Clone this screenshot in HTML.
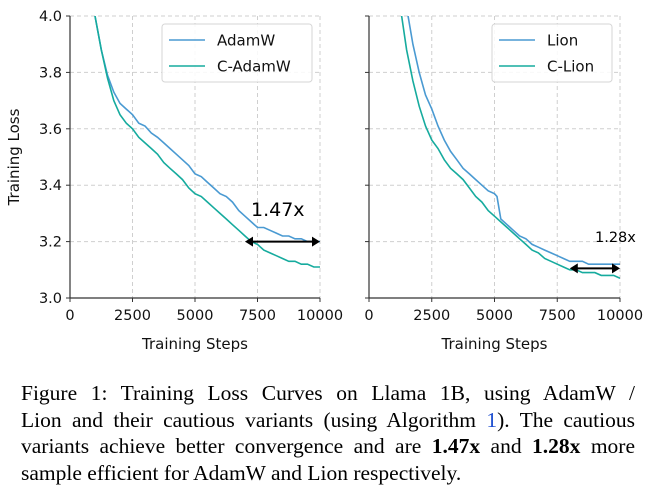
<!DOCTYPE html>
<html><head><meta charset="utf-8"><style>
body{margin:0;background:#fff;width:656px;height:491px;overflow:hidden;position:relative}
svg text{font-family:"DejaVu Sans","Liberation Sans",sans-serif}
.cap{position:absolute;left:21px;width:614px;font-family:"Liberation Serif",serif;font-size:21.5px;line-height:26.5px;top:380px;color:#000}
.cap div{text-align:justify;text-align-last:justify;white-space:nowrap}
.cap div.last{text-align-last:left}
.cap span.b{font-weight:bold}.cap span.r{color:#1f4fd0}
</style></head><body>
<svg id="chart" width="656" height="370" style="position:absolute;left:0;top:0"></svg>
<div class="cap">
<div>Figure 1: Training Loss Curves on Llama 1B, using AdamW /</div>
<div>Lion and their cautious variants (using Algorithm <span class="r">1</span>). The cautious</div>
<div>variants achieve better convergence and are <span class="b">1.47x</span> and <span class="b">1.28x</span> more</div>
<div class="last">sample efficient for AdamW and Lion respectively.</div>
</div>
<script>
const xTicks=[0,2500,5000,7500,10000];
const yTicks=[3.0,3.2,3.4,3.6,3.8,4.0];
const stepsA=[1000,1250,1500,1750,2000,2250,2500,2750,3000,3250,3500,3750,4000,4250,4500,4750,5000,5250,5500,5750,6000,6250,6500,6750,7000,7250,7500,7750,8000,8250,8500,8750,9000,9250,9500,9750,10000];
const adamw=[4.00,3.88,3.79,3.73,3.69,3.67,3.65,3.62,3.61,3.585,3.57,3.55,3.53,3.51,3.49,3.47,3.44,3.43,3.41,3.39,3.37,3.36,3.34,3.31,3.29,3.27,3.25,3.25,3.24,3.23,3.22,3.22,3.21,3.21,3.20,3.20,3.20];
const cadamw=[4.00,3.88,3.78,3.70,3.65,3.62,3.60,3.57,3.55,3.53,3.51,3.48,3.46,3.44,3.42,3.39,3.37,3.36,3.34,3.32,3.30,3.28,3.26,3.24,3.22,3.20,3.19,3.17,3.16,3.15,3.14,3.13,3.13,3.12,3.12,3.11,3.11];
const stepsL=[1500,1750,2000,2250,2500,2750,3000,3250,3500,3750,4000,4250,4500,4750,5000,5100,5250,5500,5750,6000,6250,6500,6750,7000,7250,7500,7750,8000,8250,8500,8750,9000,9250,9500,9750,10000];
const lion=[4.03,3.90,3.80,3.72,3.67,3.61,3.56,3.52,3.49,3.46,3.44,3.42,3.40,3.38,3.37,3.36,3.28,3.26,3.24,3.22,3.21,3.19,3.18,3.17,3.16,3.15,3.14,3.13,3.13,3.13,3.12,3.12,3.12,3.12,3.12,3.12];
const stepsC=[1250,1500,1750,2000,2250,2500,2750,3000,3250,3500,3750,4000,4250,4500,4750,5000,5250,5500,5750,6000,6250,6500,6750,7000,7250,7500,7750,8000,8250,8500,8750,9000,9250,9500,9750,10000];
const clion=[4.03,3.88,3.77,3.68,3.61,3.56,3.53,3.49,3.46,3.44,3.42,3.39,3.36,3.34,3.31,3.29,3.27,3.25,3.23,3.21,3.19,3.17,3.16,3.14,3.13,3.12,3.11,3.10,3.10,3.09,3.09,3.09,3.08,3.08,3.08,3.07];
const speedups=["1.47x","1.28x"];
const arrowA=[7000,10000,3.2];
const arrowL=[8000,10000,3.105];
(function(){
const BLUE="#4a9ad2",TEAL="#16ab9e";
const svg=document.getElementById('chart');
const NS="http://www.w3.org/2000/svg";
function mk(t,a,p){const e=document.createElementNS(NS,t);for(const k in a)e.setAttribute(k,a[k]);(p||svg).appendChild(e);return e;}
const yTop=16,yBot=298;
function yS(v){return yBot-(v-3.0)/1.0*(yBot-yTop);}
function panel(x0,x1,series,labels,arrow,lab,labX,labY,labSize,legX,legW,showY,id){
  const xS=s=>x0+s/10000*(x1-x0);
  const g=mk('g',{});
  
  
  const clipId='c'+id;const cp=mk('clipPath',{id:clipId},g);mk('rect',{x:x0,y:yTop,width:x1-x0,height:yBot-yTop},cp);
  xTicks.forEach(t=>{const l=mk('line',{x1:xS(t),x2:xS(t),y1:yTop,y2:yBot,stroke:'#cfcfcf','stroke-dasharray':'4,3','stroke-width':1},g);
    
    
    mk('line',{x1:xS(t),x2:xS(t),y1:yBot,y2:yBot+4,stroke:'#333'},g);
    const tx=mk('text',{x:xS(t),y:yBot+22,'text-anchor':'middle','font-size':14.5,fill:'#111'},g);tx.textContent=t;
    
    });
  yTicks.forEach(t=>{mk('line',{x1:x0,x2:x1,y1:yS(t),y2:yS(t),stroke:'#cfcfcf','stroke-dasharray':'4,3','stroke-width':1},g);
    mk('line',{x1:x0-4,x2:x0,y1:yS(t),y2:yS(t),stroke:'#333'},g);
    if(showY){const tx=mk('text',{x:x0-8,y:yS(t)+5,'text-anchor':'end','font-size':14.5,fill:'#111'},g);tx.textContent=t.toFixed(1);
      
      }});
  mk('line',{x1:x0,x2:x0,y1:yTop,y2:yBot,stroke:'#333','stroke-width':1.2},g);
  mk('line',{x1:x0,x2:x1,y1:yBot,y2:yBot,stroke:'#333','stroke-width':1.2},g);
  series.forEach(s=>{const d=s.x.map((st,i)=>(i?'L':'M')+xS(st).toFixed(1)+','+yS(s.y[i]).toFixed(1)).join('');
    const p=mk('path',{d:d,fill:'none',stroke:s.c,'stroke-width':1.6,'clip-path':'url(#'+clipId+')'},g);
    
    });
  const a=mk('g',{},g);
  
  
  const ax1=xS(arrow[0]),ax2=xS(arrow[1]),ay=yS(arrow[2]);
  mk('line',{x1:ax1+3,x2:ax2-3,y1:ay,y2:ay,stroke:'#000','stroke-width':2},a);
  mk('path',{d:`M${ax1},${ay}l8,-5v10z M${ax2},${ay}l-8,-5v10z`,fill:'#000'},a);
  const lt=mk('text',{x:labX,y:labY,'font-size':labSize,fill:'#000'},g);lt.textContent=lab;
  
  
  const lg=mk('g',{},g);
  
  
  mk('rect',{x:legX,y:24,width:legW,height:58,rx:3,fill:'#fff','fill-opacity':0.85,stroke:'#d6d6d6'},lg);
  series.forEach((s,i)=>{const yy=40+i*26;mk('line',{x1:legX+7,x2:legX+43,y1:yy,y2:yy,stroke:s.c,'stroke-width':1.4},lg);
    const t=mk('text',{x:legX+55,y:yy+5.5,'font-size':15,fill:'#111'},lg);t.textContent=labels[i];
    
    });
  const xt=mk('text',{x:(x0+x1)/2,y:349,'text-anchor':'middle','font-size':15,fill:'#111'},g);xt.textContent='Training Steps';
  
  
}
panel(70,320,[{x:stepsA,y:adamw,c:BLUE,n:'adamw'},{x:stepsA,y:cadamw,c:TEAL,n:'c-adamw'}],['AdamW','C-AdamW'],arrowA,speedups[0],251,216,19,162,150,true,'left');
panel(369,620,[{x:stepsL,y:lion,c:BLUE,n:'lion'},{x:stepsC,y:clion,c:TEAL,n:'c-lion'}],['Lion','C-Lion'],arrowL,speedups[1],595,242,14.5,492,120,false,'right');
const yt=mk('text',{x:19,y:157,'text-anchor':'middle','font-size':15,fill:'#111',transform:'rotate(-90 19 157)'});yt.textContent='Training Loss';


})();
</script>
</body></html>
